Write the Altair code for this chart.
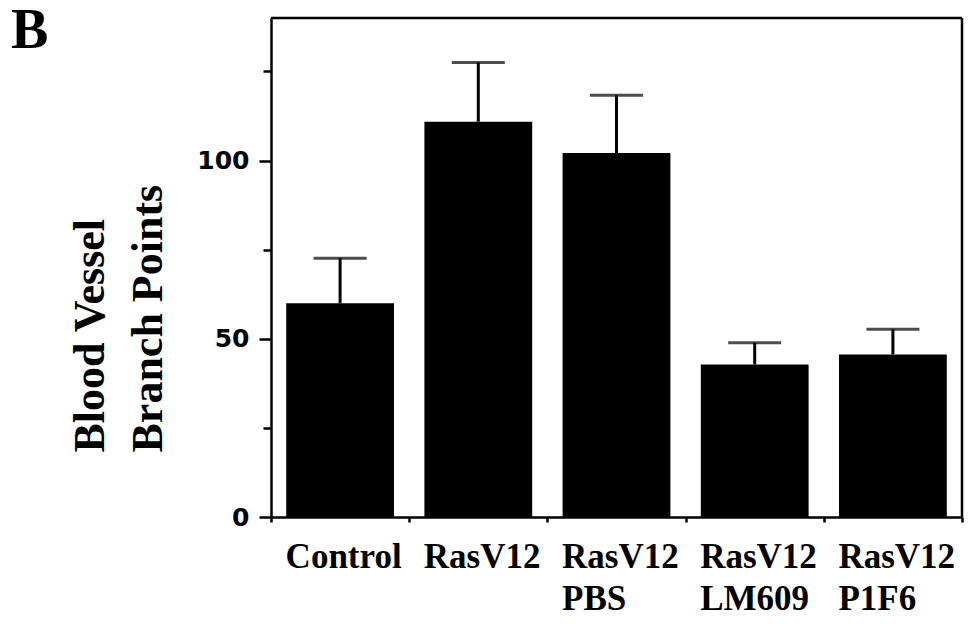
import altair as alt
import pandas as pd

categories = ["Control", "RasV12", "RasV12\nPBS", "RasV12\nLM609", "RasV12\nP1F6"]
means = [60.0, 110.9, 102.1, 42.8, 45.6]
upper = [72.6, 127.5, 118.3, 48.9, 52.7]
y_ticks = [0, 25, 50, 75, 100, 125]
panel_label = ["B"]
y_title = ["Blood Vessel", "Branch Points"]

df = pd.DataFrame({"group": categories, "mean": means, "upper": upper})
one = pd.DataFrame({"label": panel_label})

x_enc = alt.X(
    "group:N",
    sort=categories,
    scale=alt.Scale(paddingInner=0, paddingOuter=0),
    axis=alt.Axis(
        title=None,
        labelExpr="split(datum.label, '\\n')",
        labelFont="Liberation Serif",
        labelFontWeight="bold",
        labelFontSize=35,
        labelLineHeight=42,
        labelBaseline="alphabetic",
        labelAlign="left",
        labelOffset=-55,
        labelColor="black",
        labelPadding=45,
        labelAngle=0,
        labelLimit=400,
        tickBand="extent",
        tickSize=5,
        tickWidth=2.5,
        tickColor="black",
        domainWidth=2.5,
        domainColor="black",
        grid=False,
    ),
)

y_scale = alt.Scale(domain=[0, 140], nice=False)
y_axis = alt.Axis(
    title=y_title,
    titleFont="Liberation Serif",
    titleFontWeight="bold",
    titleFontSize=44,
    titleLineHeight=58,
    titleAngle=270,
    titleAlign="left",
    titleBaseline="alphabetic",
    titleX=-168,
    titleY=434,
    titleColor="black",
    values=y_ticks,
    labelExpr="datum.value % 50 === 0 ? datum.label : ''",
    labelFont="DejaVu Sans",
    labelFontWeight="bold",
    labelFontSize=25,
    labelColor="black",
    labelPadding=10,
    tickSize={"condition": {"test": "datum.value % 50 === 0", "value": 12}, "value": 8},
    tickWidth=2.5,
    tickColor="black",
    domainWidth=2.5,
    domainColor="black",
    grid=False,
)

base = alt.Chart(df)

bars = base.mark_bar(color="black", width=alt.RelativeBandSize(0.78)).encode(
    x=x_enc,
    y=alt.Y("mean:Q", scale=y_scale, axis=y_axis),
)

err = base.mark_rule(color="black", strokeWidth=3).encode(
    x=alt.X("group:N", sort=categories),
    y="mean:Q",
    y2="upper:Q",
)

caps = base.mark_tick(color="black", size=53, thickness=3).encode(
    x=alt.X("group:N", sort=categories),
    y="upper:Q",
)

frame_top = alt.Chart(one).mark_rule(color="black", strokeWidth=2.5).encode(
    x=alt.value(0), x2=alt.value(691), y=alt.value(0)
)
frame_right = alt.Chart(one).mark_rule(color="black", strokeWidth=2.5).encode(
    x=alt.value(691), y=alt.value(0), y2=alt.value(499)
)

letter = alt.Chart(one).mark_text(
    font="Liberation Serif",
    fontWeight="bold",
    fontSize=56,
    align="left",
    baseline="alphabetic",
    color="black",
).encode(x=alt.value(-260), y=alt.value(30), text="label:N")

chart = (
    alt.layer(err, bars, caps, frame_top, frame_right, letter)
    .properties(
        width=691,
        height=499,
        autosize=alt.AutoSizeParams(type="none"),
        padding={"left": 263, "top": 10, "right": 10, "bottom": 100},
    )
    .configure_view(stroke="black", strokeWidth=2.5)
    .configure(background="white")
)

chart.save("out.html", embed_options={"renderer": "svg", "actions": False})
